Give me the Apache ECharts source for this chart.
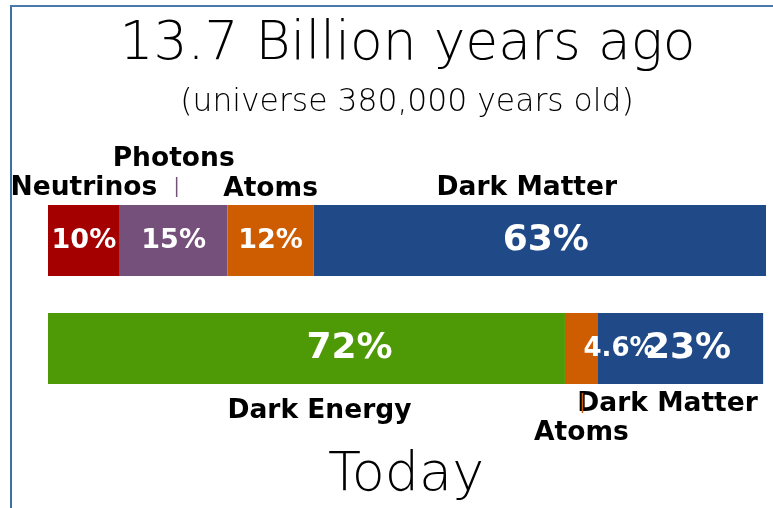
<!DOCTYPE html>
<html>
<head>
<meta charset="utf-8">
<script src="https://cdn.jsdelivr.net/npm/echarts@6/dist/echarts.min.js"></script>
<style>
  html, body { margin: 0; padding: 0; background: #ffffff; }
  #chart { width: 773px; height: 508px; }
</style>
</head>
<body>
<div id="chart"></div>
<script>
// ---- data ----
const titleText = '13.7 Billion years ago';
const subtitleText = '(universe 380,000 years old)';
const bottomTitleText = 'Today';
const rowKeys = ['past', 'today'];
const pastNames = ['Neutrinos', 'Photons', 'Atoms', 'Dark Matter'];
const pastValues = [10, 15, 12, 63];
const pastLabels = ['10%', '15%', '12%', '63%'];
const todayNames = ['Dark Energy', 'Atoms', 'Dark Matter'];
const todayValues = [72, 4.6, 23];
const todayLabels = ['72%', '4.6%', '23%'];

// ---- styles (not data) ----
const pastColors = ['#a40000', '#75507b', '#ce5c00', '#204a87'];
const todayColors = ['#4e9a06', '#ce5c00', '#204a87'];
// pct font size, pct x shift, name x shift, name baseline offset from bar edge, tick
const pastStyle = [
  { pct: 27, pdx: 0, ndx: 0, nby: -8 },
  { pct: 27, pdx: 0, ndx: 0, nby: -37, tick: { dx: 3, y0: -28, y1: -8 } },
  { pct: 27, pdx: 0, ndx: 0, nby: -7 },
  { pct: 36, pdx: 6, ndx: -13, nby: -8 }
];
const todayStyle = [
  { pct: 36, pdx: 43, ndx: 13, nby: 36 },
  { pct: 26, pdx: 38, ndx: 0, nby: 57.5, tick: { dx: 1, y0: 9, y1: 29 } },
  { pct: 36, pdx: 7.5, ndx: -13, nby: 29 }
];
const BAR_RATIO = 71 / 108;
const FONT = "'DejaVu Sans', sans-serif";
const LIGHT_FONT = "'DejaVu Sans ExtraLight', 'DejaVu Sans Light', 'DejaVu Sans', sans-serif";

// ---- build segment list from data ----
const rows = [
  { names: pastNames, values: pastValues, labels: pastLabels, colors: pastColors, style: pastStyle, above: true },
  { names: todayNames, values: todayValues, labels: todayLabels, colors: todayColors, style: todayStyle, above: false }
];
const segments = [];
rows.forEach(function (r, ri) {
  let acc = 0;
  r.values.forEach(function (v, i) {
    segments.push([acc, acc + v, ri, i]);
    acc += v;
  });
});

function renderItem(params, api) {
  const start = api.value(0), end = api.value(1), ri = api.value(2), i = api.value(3);
  const row = rows[ri];
  const st = row.style[i];
  const p0 = api.coord([start, ri]);
  const p1 = api.coord([end, ri]);
  const h = api.size([0, 1])[1] * BAR_RATIO;
  const top = p0[1] - h / 2, bottom = p0[1] + h / 2;
  const cx = (p0[0] + p1[0]) / 2;
  const children = [
    { type: 'rect', shape: { x: p0[0], y: top, width: p1[0] - p0[0], height: h },
      style: { fill: row.colors[i] } },
    { type: 'text', z2: 10, style: {
        text: row.labels[i], x: cx + st.pdx, y: p0[1] + 0.5,
        fill: '#ffffff', font: 'bold ' + st.pct + 'px ' + FONT,
        align: 'center', verticalAlign: 'middle' } }
  ];
  const edge = row.above ? top : bottom;
  const nameFs = 26.5;
  children.push({ type: 'text', z2: 10, style: {
      text: row.names[i], x: cx + st.ndx, y: edge + st.nby - 0.36 * nameFs + 1,
      fill: '#000000', font: 'bold ' + nameFs + 'px ' + FONT,
      align: 'center', verticalAlign: 'middle' } });
  if (st.tick) {
    const tx = cx + st.tick.dx;
    children.push({ type: 'line', z2: 11, shape: { x1: tx, y1: edge + st.tick.y0, x2: tx, y2: edge + st.tick.y1 },
      style: { stroke: row.colors[i], lineWidth: 1.5 } });
  }
  return { type: 'group', children: children };
}

const chart = echarts.init(document.getElementById('chart'), null, { renderer: 'canvas' });
chart.setOption({
  animation: false,
  backgroundColor: '#ffffff',
  grid: { left: 48, right: 7, top: 186.5, height: 216 },
  xAxis: { type: 'value', min: 0, max: 100, show: false },
  yAxis: { type: 'category', data: rowKeys, inverse: true, show: false },
  graphic: [
    { type: 'line', z: 0, shape: { x1: 11, y1: 5, x2: 11, y2: 508 }, style: { stroke: '#3f6fa6', lineWidth: 2 } },
    { type: 'line', z: 0, shape: { x1: 10, y1: 6, x2: 773, y2: 6 }, style: { stroke: '#4a78ab', lineWidth: 2 } },
    { type: 'text', z: 5, style: { text: titleText, x: 407.5, y: 45, fill: '#000', font: '200 53.5px ' + LIGHT_FONT, align: 'center', verticalAlign: 'middle' } },
    { type: 'text', z: 5, style: { text: subtitleText, x: 407, y: 102.5, fill: '#000', font: '200 31.4px ' + LIGHT_FONT, align: 'center', verticalAlign: 'middle' } },
    { type: 'text', z: 5, style: { text: bottomTitleText, x: 406, y: 475.5, fill: '#000', font: '200 54px ' + LIGHT_FONT, align: 'center', verticalAlign: 'middle' } }
  ],
  series: [{
    type: 'custom',
    renderItem: renderItem,
    encode: { x: [0, 1], y: 2 },
    data: segments,
    z: 10
  }]
});
</script>
</body>
</html>
